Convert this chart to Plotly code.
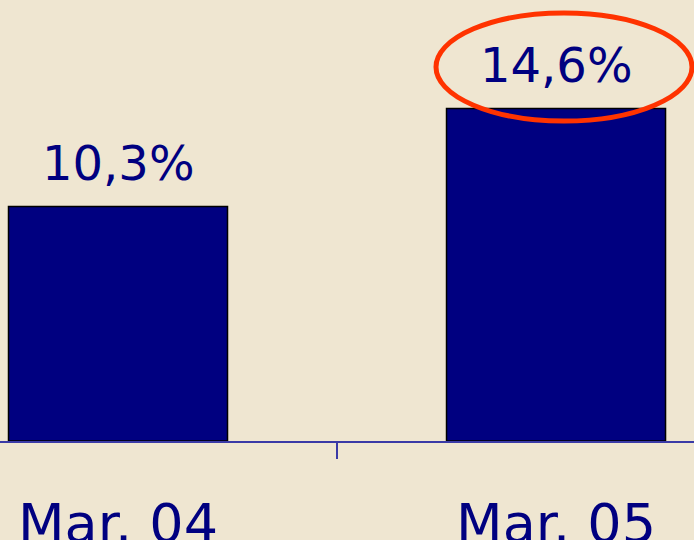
import plotly.graph_objects as go

categories = ["Mar. 04", "Mar. 05"]
values = [10.3, 14.6]
labels = ["10,3%", "14,6%"]

navy = "#000080"
bg = "#EFE6D1"
axis_col = "#3A3AA6"

fig = go.Figure()
fig.add_trace(go.Bar(
    x=categories, y=values, width=0.5,
    marker=dict(color=navy, line=dict(color="#000000", width=1.5)),
    hoverinfo="skip",
))

for c, v, t in zip(categories, values, labels):
    fig.add_annotation(x=c, y=v, text=t, showarrow=False, yanchor="bottom",
                       yshift=14, font=dict(family="DejaVu Sans", size=48, color=navy))

# highlight ellipse around the latest value
fig.add_shape(type="circle", xref="paper", yref="paper",
              x0=436/694, x1=692/694, y0=(441-121)/441, y1=(441-13)/441,
              line=dict(color="#FF3300", width=5))

fig.update_layout(
    width=694, height=540,
    margin=dict(l=0, r=0, t=0, b=99, autoexpand=False),
    paper_bgcolor=bg, plot_bgcolor=bg,
    showlegend=False,
    font=dict(family="DejaVu Sans", color=navy),
    xaxis=dict(
        range=[-0.2694, 1.315],
        automargin=False,
        showline=True, linecolor=axis_col, linewidth=2,
        ticks="outside", tickson="boundaries", ticklen=16, tickwidth=2, tickcolor=axis_col,
        tickfont=dict(family="DejaVu Sans", size=54, color=navy),
        ticklabelstandoff=34,
        showgrid=False, zeroline=False,
    ),
    yaxis=dict(range=[0, 19.37], visible=False, showgrid=False, zeroline=False, automargin=False),
)

fig.write_html("out.html", config={"displayModeBar": False},
               post_script="document.body.style.margin='0';document.body.style.overflow='hidden';")
